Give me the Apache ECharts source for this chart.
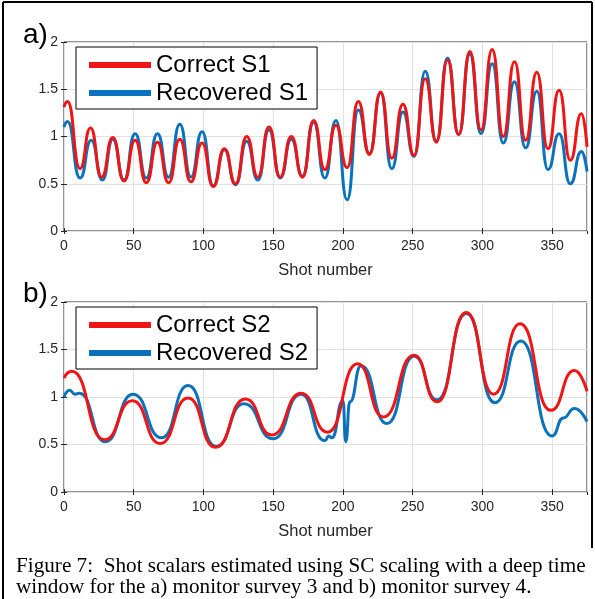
<!DOCTYPE html>
<html><head><meta charset="utf-8">
<script src="https://cdn.jsdelivr.net/npm/echarts@6/dist/echarts.min.js"></script>
<style>html,body{margin:0;padding:0;background:#fff}#c{width:595px;height:599px}</style>
</head><body><div id="c"></div>
<script>
// ---- data (shot number, scalar) ----
const xTickStep = 50;
const yTickStep = 0.5;
const xMax = 375;
const yMax = 2;

const correctS1 = [[0,1.31],[2.5,1.37],[11.5,0.66],[19,1.09],[27,0.57],[35,0.99],[43,0.53],[51,0.96],[59,0.51],[67,0.94],[75,0.51],[83,0.97],[91,0.52],[99,0.93],[107,0.47],[115,0.87],[123,0.50],[131,1.0],[139,0.57],[147,1.1],[155,0.57],[163,1.0],[171,0.57],[179,1.17],[187,0.65],[195,1.12],[203,0.67],[211,1.37],[219,0.81],[227,1.47],[235,0.77],[243,1.34],[251,0.80],[259,1.61],[267,0.94],[275,1.81],[283,1.02],[291,1.90],[299,1.07],[307,1.92],[315,1.0],[323,1.79],[331,0.96],[339,1.68],[347,0.87],[355,1.49],[363,0.75],[371,1.24],[375,0.89]];

const recoveredS1 = [[0,1.10],[2.5,1.16],[11.5,0.56],[19.5,0.96],[27.5,0.54],[35,0.97],[43,0.54],[51,1.03],[59,0.56],[67,1.03],[75,0.57],[83,1.13],[91,0.57],[99,1.05],[107,0.48],[115,0.86],[123,0.49],[131,0.95],[139,0.54],[147,1.07],[155,0.56],[163,0.97],[171,0.58],[179,1.15],[187,0.56],[195,1.17],[203,0.33],[211,1.28],[219,0.82],[227,1.46],[235,0.66],[243,1.26],[251,0.79],[259,1.69],[267,0.95],[275,1.83],[283,1.02],[291,1.87],[299,1.03],[307,1.77],[315,0.93],[323,1.58],[331,0.88],[339,1.48],[347,0.65],[355,1.03],[363,0.50],[371,0.84],[375,0.63]];

const correctS2 = [[0,1.20],[5.5,1.27],[29,0.55],[49,0.96],[69,0.51],[89,0.99],[108.5,0.47],[130,0.98],[149,0.60],[170,1.04],[189,0.63],[210.5,1.35],[229,0.79],[251,1.44],[267.5,0.95],[288.5,1.89],[308,1.03],[327,1.77],[349,0.86],[366,1.28],[375,1.06]];

const recoveredS2 = [[0,1.0],[4,1.07],[8,1.03],[11,1.04],[29.5,0.53],[49.5,1.03],[70,0.57],[89,1.12],[109,0.48],[129,0.93],[150,0.56],[170,1.03],[187,0.54],[190,0.59],[192,0.57],[200,0.96],[202,0.53],[205,0.95],[213,1.33],[231.5,0.72],[251,1.43],[267.5,0.97],[288.5,1.88],[309,0.94],[327.5,1.59],[350,0.59],[358,0.78],[366,0.88],[375,0.74]];

const legendA = ['Correct S1','Recovered S1'];
const legendB = ['Correct S2','Recovered S2'];
const xName = 'Shot number';
const caption = 'Figure 7:  Shot scalars estimated using SC scaling with a deep time\nwindow for the a) monitor survey 3 and b) monitor survey 4.';

// ---- styling ----
const FONT = '"Liberation Sans", Arial, sans-serif';
const RED = '#f01414';
const BLUE = '#0a72bd';
const AX = '#262626';
const grids = [
  {left:64, top:42, right:8, height:189, show:true, borderColor:AX, borderWidth:1},
  {left:64, top:302, right:8, height:190, show:true, borderColor:AX, borderWidth:1}
];

const xAxes = [], yAxes = [];
grids.forEach((g, i) => {
  xAxes.push({type:'value', gridIndex:i, min:0, max:xMax, interval:xTickStep, position:'bottom',
    name:xName, nameLocation:'middle', nameGap:31,
    nameTextStyle:{fontSize:16.5, color:AX, fontFamily:FONT},
    axisLine:{show:false}, axisTick:{show:true, inside:true, length:3, lineStyle:{color:AX}},
    axisLabel:{fontSize:14, color:AX, fontFamily:FONT, margin:8, showMaxLabel:false},
    splitLine:{show:true, lineStyle:{color:'#e2e2e2', width:1}}});
  xAxes.push({type:'value', gridIndex:i, min:0, max:xMax, interval:xTickStep, position:'top',
    axisLine:{show:false}, axisTick:{show:true, inside:true, length:3, lineStyle:{color:AX}},
    axisLabel:{show:false}, splitLine:{show:false}});
  yAxes.push({type:'value', gridIndex:i, min:0, max:yMax, interval:yTickStep, position:'left',
    axisLine:{show:false}, axisTick:{show:true, inside:true, length:3, lineStyle:{color:AX}},
    axisLabel:{fontSize:14, color:AX, fontFamily:FONT, margin:6},
    splitLine:{show:true, lineStyle:{color:'#e2e2e2', width:1}}});
  yAxes.push({type:'value', gridIndex:i, min:0, max:yMax, interval:yTickStep, position:'right',
    axisLine:{show:false}, axisTick:{show:true, inside:true, length:3, lineStyle:{color:AX}},
    axisLabel:{show:false}, splitLine:{show:false}});
});

function lineSeries(name, data, color, gi, z) {
  return {name, type:'line', data, xAxisIndex:gi*2, yAxisIndex:gi*2,
    showSymbol:false, symbol:'none', smooth:0.55, smoothMonotone:'x',
    lineStyle:{color, width:3}, itemStyle:{color}, z, animation:false, silent:true};
}

function legendCfg(data, top) {
  return {data, left:76, top, orient:'vertical', icon:'rect', itemWidth:62, itemHeight:6,
    itemGap:4, selectedMode:false, backgroundColor:'#fff', borderColor:'#000', borderWidth:1,
    padding:[6,9,4,13],
    textStyle:{fontSize:24, lineHeight:24, color:'#000', fontFamily:FONT}};
}

const option = {
  animation:false,
  backgroundColor:'#fff',
  grid: grids,
  xAxis: xAxes,
  yAxis: yAxes,
  legend: [legendCfg(legendA, 47), legendCfg(legendB, 307)],
  title: [
    {text:'a)', left:18, top:16, textStyle:{fontSize:28, fontWeight:'normal', color:'#000', fontFamily:FONT}},
    {text:'b)', left:18, top:275, textStyle:{fontSize:28, fontWeight:'normal', color:'#000', fontFamily:FONT}},
    {text:caption, left:11, top:551, textStyle:{fontSize:21.2, lineHeight:21, fontWeight:'normal', color:'#000', fontFamily:'"Liberation Serif", "Times New Roman", serif'}}
  ],
  graphic: [
    {type:'line', shape:{x1:3, y1:2, x2:592, y2:2}, style:{stroke:'#000', lineWidth:2}},
    {type:'line', shape:{x1:3, y1:2, x2:3, y2:599}, style:{stroke:'#000', lineWidth:2}},
    {type:'line', shape:{x1:592, y1:2, x2:592, y2:548}, style:{stroke:'#000', lineWidth:2}}
  ],
  series: [
    lineSeries('Recovered S1', recoveredS1, BLUE, 0, 2),
    lineSeries('Correct S1', correctS1, RED, 0, 3),
    lineSeries('Recovered S2', recoveredS2, BLUE, 1, 2),
    lineSeries('Correct S2', correctS2, RED, 1, 3)
  ]
};
const chart = echarts.init(document.getElementById('c'));
chart.setOption(option);
</script></body></html>
